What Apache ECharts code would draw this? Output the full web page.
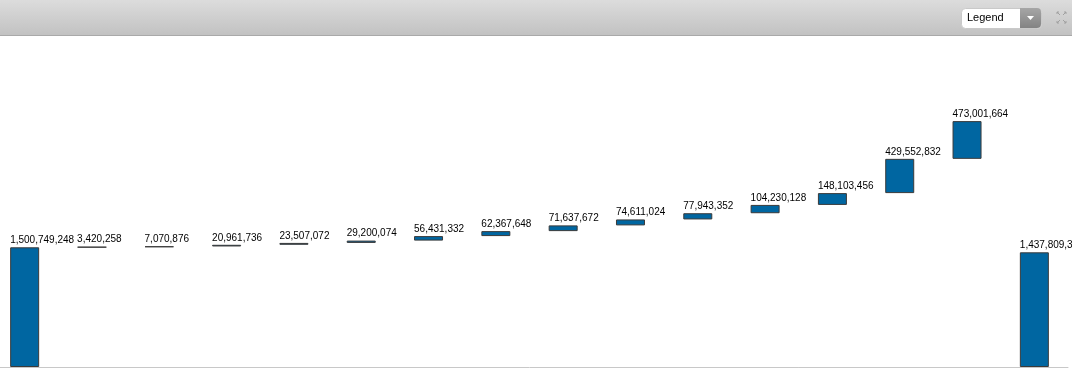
<!DOCTYPE html>
<html>
<head>
<meta charset="utf-8">
<script src="https://cdn.jsdelivr.net/npm/echarts@6/dist/echarts.min.js"></script>
<style>
html,body{margin:0;padding:0;background:#fff;overflow:hidden;width:1072px;height:368px;position:relative;}
#chart{position:absolute;left:-9px;top:0;width:1081px;height:368px;}
</style>
</head>
<body>
<div id="chart"></div>
<script>
// Data
var categories = ['Start','C1','C2','C3','C4','C5','C6','C7','C8','C9','C10','C11','C12','C13','C14','End'];
var startTotal = 1500749248;
var increments = [3420258, 7070876, 20961736, 23507072, 29200074, 56431332, 62367648, 71637672, 74611024, 77943352, 104230128, 148103456, 429552832, 473001664];
var endTotal = 1437809344;

var baseData = [0];
var valueData = [startTotal];
var running = startTotal;
for (var i = 0; i < increments.length; i++) {
  baseData.push(running);
  valueData.push(increments[i]);
  running += increments[i];
}
baseData.push(0);
valueData.push(endTotal);

var chart = echarts.init(document.getElementById('chart'), null, {renderer: 'canvas'});

var OX = 9; // canvas is shifted 9px left of the page
var iconColor = '#a0a0a0';
var option = {
  animation: false,
  backgroundColor: '#ffffff',
  grid: {left: 0, right: 4, top: 36, bottom: 1, containLabel: false},
  xAxis: {
    type: 'category',
    data: categories,
    axisLine: {show: true, lineStyle: {color: '#c8c8c8', width: 1}},
    axisTick: {show: false},
    axisLabel: {show: false},
    splitLine: {show: false}
  },
  yAxis: {
    type: 'value',
    min: 0,
    max: 4150000000,
    show: false,
    splitLine: {show: false}
  },
  series: [
    {
      type: 'bar',
      stack: 'wf',
      data: baseData,
      barWidth: 29,
      itemStyle: {color: 'rgba(0,0,0,0)', borderWidth: 0},
      silent: true
    },
    {
      type: 'bar',
      stack: 'wf',
      data: valueData,
      barWidth: 29,
      itemStyle: {color: '#0066a1', borderColor: '#3a3a3a', borderWidth: 1},
      label: {
        show: true,
        position: [0, -12],
        fontSize: 10,
        fontFamily: 'Liberation Sans, Arial, sans-serif',
        color: '#000',
        formatter: function (p) { return Number(p.value).toLocaleString('en-US'); }
      }
    }
  ],
  graphic: [
    {
      type: 'rect', left: 0, top: 0, z: 10,
      shape: {width: 1081, height: 35},
      style: {fill: new echarts.graphic.LinearGradient(0, 0, 0, 1, [
        {offset: 0, color: '#dcdcdc'}, {offset: 1, color: '#c2c2c2'}])}
    },
    {
      type: 'rect', left: 0, top: 35, z: 10,
      shape: {width: 1081, height: 1},
      style: {fill: '#a9a9a9'}
    },
    {
      type: 'rect', left: 961 + OX, top: 8, z: 11,
      shape: {width: 80, height: 20, r: 4},
      style: {fill: '#ffffff', stroke: '#c9c9c9', lineWidth: 1}
    },
    {
      type: 'rect', left: 1020 + OX, top: 8, z: 12,
      shape: {width: 21, height: 20, r: [0, 4, 4, 0]},
      style: {fill: new echarts.graphic.LinearGradient(0, 0, 0, 1, [
        {offset: 0, color: '#a6a6a6'}, {offset: 1, color: '#838383'}])}
    },
    {
      type: 'polygon', z: 13,
      shape: {points: [[1027 + OX, 16], [1034 + OX, 16], [1030.5 + OX, 20]]},
      style: {fill: '#ffffff'}
    },
    {
      type: 'text', left: 967 + OX, top: 12, z: 13,
      style: {text: 'Legend', fontSize: 11, fontFamily: 'Liberation Sans, Arial, sans-serif', fill: '#000'}
    },
    // expand icon
    {type: 'polyline', z: 13, shape: {points: [[1057 + OX, 12], [1060 + OX, 15]]}, style: {stroke: iconColor, lineWidth: 1}},
    {type: 'polyline', z: 13, shape: {points: [[1057 + OX, 14], [1057 + OX, 12], [1059 + OX, 12]]}, style: {stroke: iconColor, lineWidth: 1, fill: null}},
    {type: 'polyline', z: 13, shape: {points: [[1066 + OX, 12], [1063 + OX, 15]]}, style: {stroke: iconColor, lineWidth: 1}},
    {type: 'polyline', z: 13, shape: {points: [[1064 + OX, 12], [1066 + OX, 12], [1066 + OX, 14]]}, style: {stroke: iconColor, lineWidth: 1, fill: null}},
    {type: 'polyline', z: 13, shape: {points: [[1057 + OX, 23], [1060 + OX, 20]]}, style: {stroke: iconColor, lineWidth: 1}},
    {type: 'polyline', z: 13, shape: {points: [[1057 + OX, 21], [1057 + OX, 23], [1059 + OX, 23]]}, style: {stroke: iconColor, lineWidth: 1, fill: null}},
    {type: 'polyline', z: 13, shape: {points: [[1066 + OX, 23], [1063 + OX, 20]]}, style: {stroke: iconColor, lineWidth: 1}},
    {type: 'polyline', z: 13, shape: {points: [[1064 + OX, 23], [1066 + OX, 23], [1066 + OX, 21]]}, style: {stroke: iconColor, lineWidth: 1, fill: null}}
  ]
};
chart.setOption(option);
</script>
</body>
</html>
